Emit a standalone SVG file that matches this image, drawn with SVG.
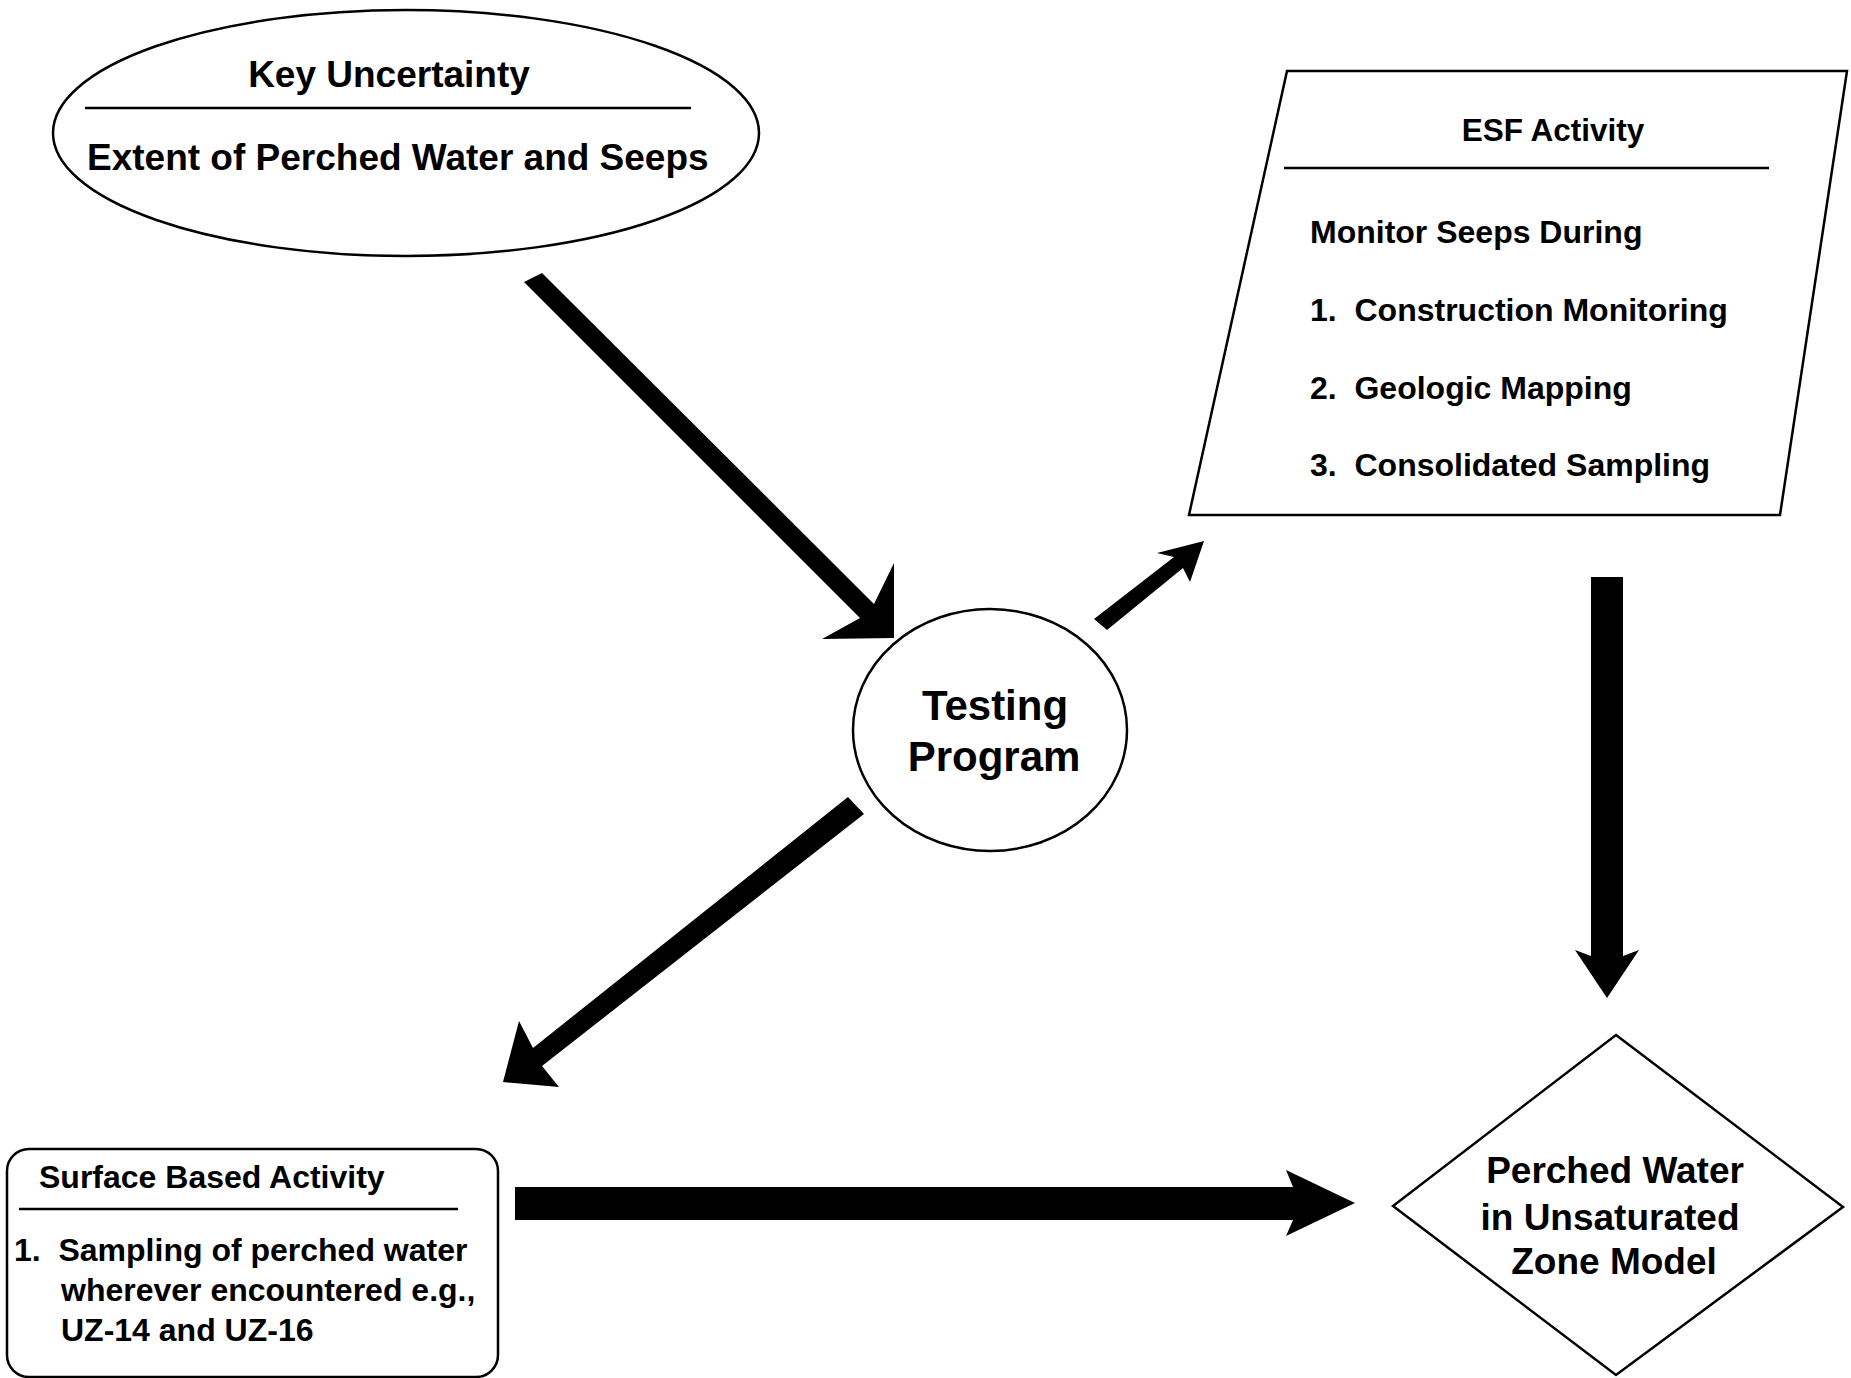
<svg xmlns="http://www.w3.org/2000/svg" width="1851" height="1378" viewBox="0 0 1851 1378">
<style>
.shape{fill:#fff;stroke:#000;stroke-width:2.5}
.rule{stroke:#000;stroke-width:2.5}
.t{font-family:"Liberation Sans",Arial,Helvetica,sans-serif;font-weight:bold;fill:#000}
.arrow{fill:#000;stroke:none}
</style>
<rect width="1851" height="1378" fill="#fff"/>
<g id="connectors">
<polygon class="arrow" points="894,638 894,563 874,604 542,273 524,282 860,618 822,639"/>
<polygon class="arrow" points="1204,541 1157,553 1174,557 1094,619 1107,630 1183,568 1190,582"/>
<polygon class="arrow" points="503,1082 519,1021 533,1048 848,797 864,814 542,1066 559,1087"/>
<polygon class="arrow" points="1355,1203 1286,1170 1293,1187 515,1187 515,1220 1293,1220 1286,1236"/>
<polygon class="arrow" points="1607,998 1639,950 1623,956 1623,577 1591,577 1591,956 1575,950"/>
</g>
<g id="key-uncertainty">
<ellipse class="shape" cx="406" cy="133" rx="353" ry="123"/>
<text class="t" x="389" y="87" font-size="37" text-anchor="middle">Key Uncertainty</text>
<line class="rule" x1="85" y1="108" x2="691" y2="108"/>
<text class="t" x="87" y="170" font-size="37">Extent of Perched Water and Seeps</text>
</g>
<g id="esf-activity">
<polygon class="shape" points="1287,71 1847,71 1780,515 1189,515"/>
<text class="t" x="1553" y="141" font-size="31.5" text-anchor="middle">ESF Activity</text>
<line class="rule" x1="1284" y1="168" x2="1769" y2="168"/>
<text class="t" x="1310" y="243" font-size="32">Monitor Seeps During</text>
<text class="t" x="1310" y="321" font-size="32" xml:space="preserve">1.  Construction Monitoring</text>
<text class="t" x="1310" y="399" font-size="32" xml:space="preserve">2.  Geologic Mapping</text>
<text class="t" x="1310" y="476" font-size="32" xml:space="preserve">3.  Consolidated Sampling</text>
</g>
<g id="testing-program">
<ellipse class="shape" cx="990" cy="730" rx="137" ry="121"/>
<text class="t" x="995" y="720" font-size="42" text-anchor="middle">Testing</text>
<text class="t" x="994" y="771" font-size="42" text-anchor="middle">Program</text>
</g>
<g id="surface-based-activity">
<rect class="shape" x="7" y="1149" width="491" height="228" rx="22" ry="22"/>
<text class="t" x="39" y="1188" font-size="32">Surface Based Activity</text>
<line class="rule" x1="19" y1="1209" x2="458" y2="1209"/>
<text class="t" x="14" y="1261" font-size="32" xml:space="preserve">1.  Sampling of perched water</text>
<text class="t" x="61" y="1301" font-size="32">wherever encountered e.g.,</text>
<text class="t" x="61" y="1341" font-size="32">UZ-14 and UZ-16</text>
</g>
<g id="perched-water-model">
<polygon class="shape" points="1616,1035 1843,1207 1616,1375 1393,1206"/>
<text class="t" x="1615" y="1183" font-size="37" text-anchor="middle">Perched Water</text>
<text class="t" x="1610" y="1230" font-size="37" text-anchor="middle">in Unsaturated</text>
<text class="t" x="1614" y="1274" font-size="37" text-anchor="middle">Zone Model</text>
</g>
</svg>
